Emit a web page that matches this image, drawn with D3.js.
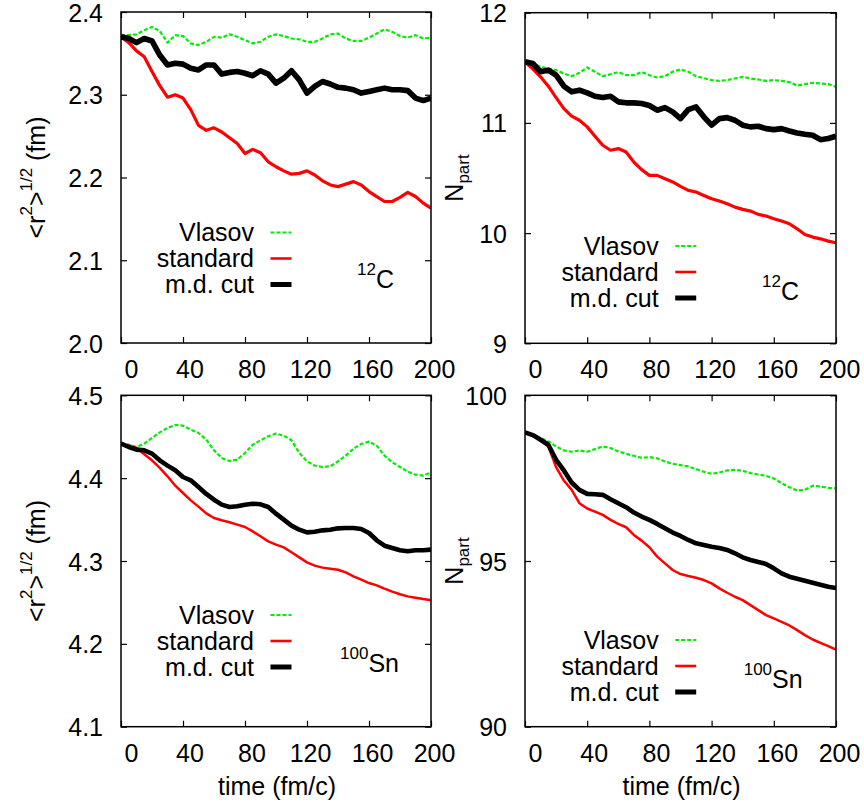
<!DOCTYPE html>
<html><head><meta charset="utf-8">
<script src="https://cdn.jsdelivr.net/npm/d3@7"></script>
<style>
body{margin:0;background:#fff}
svg{display:block}
text{font-family:"Liberation Sans",Arial,Helvetica,sans-serif;fill:#000}
</style>
</head><body>
<svg id="chart" width="864" height="809"></svg>
<script>
// ---------- data ----------
const time = [0,5,10,15,20,25,30,35,40,45,50,55,60,65,70,75,80,85,90,95,100,105,110,115,120,125,130,135,140,145,150,155,160,165,170,175,180,185,190,195,200];
const xTicks = [0,40,80,120,160,200];
const rmsTicksC = [2.0,2.1,2.2,2.3,2.4];
const npartTicksC = [9,10,11,12];
const rmsTicksSn = [4.1,4.2,4.3,4.4,4.5];
const npartTicksSn = [90,95,100];
const seriesNames = ["Vlasov","standard","m.d. cut"];

// 12C, rms radius
const c12RmsVlasov = [2.372,2.372,2.373,2.378,2.382,2.377,2.363,2.372,2.371,2.362,2.360,2.364,2.370,2.369,2.373,2.370,2.366,2.362,2.364,2.370,2.373,2.371,2.368,2.367,2.364,2.364,2.368,2.373,2.374,2.368,2.365,2.365,2.369,2.374,2.379,2.376,2.371,2.369,2.372,2.368,2.369];
const c12RmsStandard = [2.370,2.363,2.353,2.346,2.328,2.311,2.297,2.300,2.296,2.282,2.263,2.257,2.260,2.255,2.248,2.241,2.229,2.234,2.230,2.219,2.213,2.208,2.204,2.205,2.208,2.203,2.196,2.191,2.189,2.192,2.195,2.191,2.183,2.177,2.171,2.171,2.176,2.182,2.177,2.169,2.163];
const c12RmsCut = [2.370,2.368,2.363,2.368,2.365,2.348,2.336,2.338,2.337,2.332,2.330,2.336,2.336,2.325,2.327,2.328,2.326,2.323,2.329,2.325,2.314,2.320,2.329,2.318,2.302,2.310,2.316,2.313,2.309,2.308,2.306,2.302,2.304,2.306,2.308,2.306,2.306,2.305,2.296,2.293,2.296];

// 12C, N_part
const c12NVlasov = [11.552,11.539,11.509,11.494,11.479,11.448,11.424,11.455,11.503,11.464,11.424,11.442,11.461,11.433,11.433,11.461,11.433,11.412,11.424,11.464,11.485,11.464,11.424,11.406,11.388,11.382,11.388,11.403,11.418,11.403,11.394,11.382,11.388,11.382,11.370,11.339,11.352,11.364,11.358,11.352,11.327];
const c12NStandard = [11.555,11.490,11.418,11.333,11.230,11.130,11.061,11.024,10.964,10.879,10.797,10.752,10.767,10.736,10.645,10.576,10.524,10.524,10.494,10.464,10.424,10.388,10.373,10.342,10.312,10.291,10.267,10.236,10.215,10.200,10.170,10.155,10.130,10.109,10.085,10.039,9.988,9.964,9.948,9.927,9.912];
const c12NCut = [11.555,11.540,11.464,11.479,11.433,11.333,11.282,11.297,11.273,11.242,11.230,11.242,11.191,11.182,11.182,11.176,11.158,11.115,11.139,11.100,11.039,11.121,11.145,11.055,10.979,11.039,11.048,11.024,10.979,10.964,10.970,10.948,10.939,10.948,10.927,10.909,10.897,10.888,10.848,10.858,10.879];

// 100Sn, rms radius
const sn100RmsVlasov = [4.4417,4.4404,4.4376,4.4417,4.4485,4.4553,4.4606,4.4642,4.4634,4.4586,4.4545,4.4465,4.4336,4.4243,4.4207,4.4223,4.4304,4.4404,4.4457,4.4505,4.4537,4.4513,4.4457,4.4304,4.4203,4.4151,4.4135,4.4143,4.4203,4.4272,4.4356,4.4413,4.4441,4.4392,4.4272,4.4191,4.4135,4.4078,4.4042,4.4030,4.4070];
const sn100RmsStandard = [4.4417,4.4392,4.4364,4.4288,4.4215,4.4123,4.4022,4.3909,4.3821,4.3732,4.3656,4.3575,4.3519,4.3491,4.3467,4.3439,4.3410,4.3358,4.3298,4.3237,4.3197,4.3165,4.3105,4.3044,4.2984,4.2944,4.2920,4.2907,4.2895,4.2863,4.2815,4.2775,4.2734,4.2706,4.2666,4.2630,4.2598,4.2573,4.2557,4.2541,4.2525];
const sn100RmsCut = [4.4417,4.4376,4.4344,4.4336,4.4296,4.4215,4.4151,4.4095,4.4014,4.3974,4.3893,4.3809,4.3740,4.3680,4.3652,4.3660,4.3680,4.3692,4.3684,4.3652,4.3571,4.3499,4.3427,4.3378,4.3346,4.3354,4.3370,4.3378,4.3394,4.3398,4.3398,4.3386,4.3338,4.3250,4.3185,4.3157,4.3129,4.3117,4.3129,4.3129,4.3137];

// 100Sn, N_part
const sn100NVlasov = [98.881,98.810,98.710,98.609,98.458,98.337,98.296,98.337,98.296,98.377,98.458,98.407,98.306,98.236,98.175,98.115,98.135,98.095,98.004,97.933,97.893,97.853,97.772,97.692,97.631,97.671,97.732,97.752,97.722,97.651,97.611,97.571,97.490,97.349,97.228,97.127,97.147,97.268,97.248,97.208,97.188];
const sn100NStandard = [98.881,98.780,98.639,98.458,97.833,97.429,97.147,96.744,96.583,96.492,96.391,96.240,96.119,96.018,95.786,95.615,95.413,95.131,94.929,94.728,94.607,94.546,94.496,94.425,94.325,94.173,94.042,93.921,93.820,93.669,93.518,93.367,93.266,93.165,93.054,92.913,92.762,92.631,92.530,92.429,92.329];
const sn100NCut = [98.881,98.800,98.659,98.508,98.054,97.732,97.369,97.147,97.026,97.016,96.996,96.865,96.744,96.623,96.462,96.341,96.240,96.119,95.988,95.857,95.756,95.635,95.534,95.484,95.433,95.393,95.333,95.232,95.111,95.030,94.970,94.909,94.778,94.627,94.526,94.466,94.405,94.345,94.284,94.224,94.183];

// ---------- layout ----------
const svg = d3.select("#chart");
const FS = 25, FSS = 17;
const colors = ["#00ee00","#ff0000","#000000"];

const panels = [
  {l:121,r:431,t:12,b:343, dom:[2.0,2.4], ticks:rmsTicksC, fmt:d3.format(".1f"),
   series:[c12RmsVlasov,c12RmsStandard,c12RmsCut], ylab:"rms", nuc:["12","C"],
   legX:254, legY:241, nucX:357, nucY:288, w:[2.2,3.2,5.6], xlab:false},
  {l:525,r:836,t:12.7,b:343.3, dom:[9,12], ticks:npartTicksC, fmt:d3.format("d"),
   series:[c12NVlasov,c12NStandard,c12NCut], ylab:"n", nuc:["12","C"],
   legX:658.7, legY:254.5, nucX:762, nucY:300, w:[2.2,3.2,5.6], xlab:false},
  {l:121,r:431,t:395.3,b:726.7, dom:[4.1,4.5], ticks:rmsTicksSn, fmt:d3.format(".1f"),
   series:[sn100RmsVlasov,sn100RmsStandard,sn100RmsCut], ylab:"rms", nuc:["100","Sn"],
   legX:254, legY:623.5, nucX:340, nucY:671.7, w:[2.2,2.5,4.6], xlab:true},
  {l:525,r:836,t:395.3,b:726.7, dom:[90,100], ticks:npartTicksSn, fmt:d3.format("d"),
   series:[sn100NVlasov,sn100NStandard,sn100NCut], ylab:"n", nuc:["100","Sn"],
   legX:658.7, legY:648.5, nucX:743.7, nucY:688.3, w:[2.2,2.5,4.6], xlab:true}
];

panels.forEach((p, i) => {
  const x = d3.scaleLinear().domain([0,200]).range([p.l,p.r]);
  const y = d3.scaleLinear().domain(p.dom).range([p.b,p.t]);
  const g = svg.append("g");

  const cid = "clip" + i;
  svg.append("clipPath").attr("id", cid).append("rect")
    .attr("x", p.l).attr("y", p.t).attr("width", p.r - p.l).attr("height", p.b - p.t);

  // axes (ticks inward, mirrored)
  const ax = [
    g.append("g").attr("transform", `translate(0,${p.b})`).call(d3.axisBottom(x).tickValues(xTicks).tickSize(-6).tickSizeOuter(0)),
    g.append("g").attr("transform", `translate(0,${p.t})`).call(d3.axisTop(x).tickValues(xTicks).tickSize(-6).tickSizeOuter(0)),
    g.append("g").attr("transform", `translate(${p.l},0)`).call(d3.axisLeft(y).tickValues(p.ticks).tickFormat(p.fmt).tickSize(-6).tickSizeOuter(0)),
    g.append("g").attr("transform", `translate(${p.r},0)`).call(d3.axisRight(y).tickValues(p.ticks).tickSize(-6).tickSizeOuter(0))
  ];
  ax.forEach(a => { a.select(".domain").remove(); a.selectAll("line").attr("stroke","#000").attr("stroke-width",1.2); a.attr("font-family",null).attr("font-size",null); });
  ax[1].selectAll("text").remove();
  ax[3].selectAll("text").remove();
  ax[0].selectAll("text")
    .attr("y", 35).attr("dy", null)
    .attr("dx", d => 13.5 - 3.5 * String(d).length)
    .style("font-size", FS + "px").attr("fill", "#000");
  ax[2].selectAll("text")
    .attr("x", -18).attr("dy", null).attr("y", 9)
    .attr("text-anchor", "end")
    .style("font-size", FS + "px").attr("fill", "#000");

  // curves
  const line = d3.line().x((d, k) => x(time[k])).y(d => y(d));
  const cg = g.append("g").attr("clip-path", `url(#${cid})`);
  p.series.forEach((s, k) => {
    cg.append("path").datum(s).attr("d", line)
      .attr("fill", "none").attr("stroke", colors[k])
      .attr("stroke-width", p.w[k])
      .attr("stroke-linejoin", "round")
      .attr("stroke-dasharray", k === 0 ? "4,2" : null);
  });

  // frame
  g.append("rect").attr("x", p.l).attr("y", p.t).attr("width", p.r - p.l).attr("height", p.b - p.t)
    .attr("fill", "none").attr("stroke", "#000").attr("stroke-width", 1.5);

  // legend
  seriesNames.forEach((n, k) => {
    const by = p.legY + k * 26;
    g.append("text").attr("x", p.legX).attr("y", by).attr("text-anchor", "end")
      .style("font-size", FS + "px").text(n);
    g.append("line").attr("x1", p.legX + 16.5).attr("x2", p.legX + 37.5)
      .attr("y1", by - 8.5).attr("y2", by - 8.5)
      .attr("stroke", colors[k]).attr("stroke-width", [2.2, 2.6, 5][k])
      .attr("stroke-dasharray", k === 0 ? "4,2" : null);
  });

  // nucleus label
  const nt = g.append("text").attr("x", p.nucX).attr("y", p.nucY);
  nt.append("tspan").attr("dy", -13).style("font-size", FSS + "px").text(p.nuc[0]);
  nt.append("tspan").attr("dy", 13).style("font-size", FS + "px").text(p.nuc[1]);

  // y axis title
  const cy = (p.t + p.b) / 2;
  if (p.ylab === "rms") {
    const yt = g.append("text").attr("transform", `translate(45,${cy}) rotate(-90)`).attr("text-anchor", "middle")
      .style("font-size", FS + "px");
    yt.append("tspan").text("<r");
    yt.append("tspan").attr("dy", -13).style("font-size", FSS + "px").text("2");
    yt.append("tspan").attr("dy", 13).text(">");
    yt.append("tspan").attr("dy", -13).style("font-size", FSS + "px").text("1/2");
    yt.append("tspan").attr("dy", 13).text("\u00a0(fm)");
  } else {
    const yt = g.append("text").attr("transform", `translate(463,${cy}) rotate(-90)`).attr("text-anchor", "middle")
      .style("font-size", FS + "px");
    yt.append("tspan").text("N");
    yt.append("tspan").attr("dy", 6).style("font-size", FSS + "px").text("part");
  }

  // x axis title
  if (p.xlab) {
    g.append("text").attr("x", (p.l + p.r) / 2 + 1).attr("y", 795).attr("text-anchor", "middle")
      .style("font-size", FS + "px").text("time (fm/c)");
  }
});
</script>
</body></html>
